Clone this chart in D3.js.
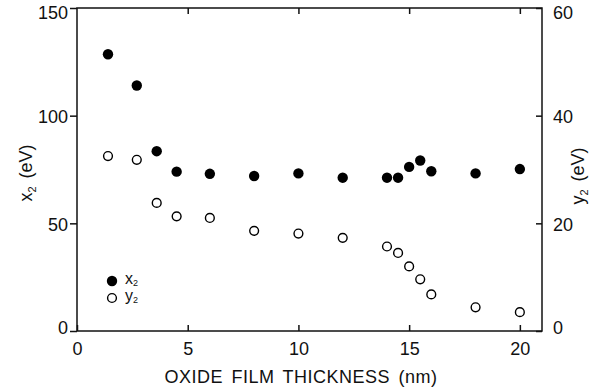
<!DOCTYPE html>
<html>
<head>
<meta charset="utf-8">
<script src="https://cdn.jsdelivr.net/npm/d3@7"></script>
<style>
  body { margin: 0; background: #fff; }
  svg { font-family: "Liberation Sans", Arial, sans-serif; }
</style>
</head>
<body>
<div class="chart"></div>
<script>
const width = 589;
const height = 389;
const margin = { top: 8, right: 47, bottom: 58, left: 77 };

// oxide film thickness (nm)
const thickness = [1.4, 2.7, 3.6, 4.5, 6.0, 8.0, 10, 12, 14, 14.5, 15, 15.5, 16, 18, 20];
// x2 (eV), left axis
const x2Values = [128.5, 114, 83.5, 74, 73, 72, 73.2, 71.2, 71.2, 71.2, 76.2, 79.2, 74.2, 73.2, 75.2];
// y2 (eV), right axis
const y2Values = [32.5, 31.8, 23.8, 21.3, 21.0, 18.6, 18.1, 17.3, 15.7, 14.5, 12.0, 9.6, 6.8, 4.4, 3.5];

const xTicks = [0, 5, 10, 15, 20];
const leftTicks = [0, 50, 100, 150];
const rightTicks = [0, 20, 40, 60];

const svg = d3.select(".chart")
    .append("svg")
    .attr("width", width)
    .attr("height", height);

const x = d3.scaleLinear()
    .domain([0, 21])
    .range([margin.left, width - margin.right]);

const yLeft = d3.scaleLinear()
    .domain([0, 150])
    .range([height - margin.bottom, margin.top]);

const yRight = d3.scaleLinear()
    .domain([0, 60])
    .range([height - margin.bottom, margin.top]);

const fontSize = 18;

// frame
svg.append("rect")
    .attr("x", margin.left)
    .attr("y", margin.top)
    .attr("width", width - margin.left - margin.right)
    .attr("height", height - margin.top - margin.bottom)
    .attr("fill", "none")
    .attr("stroke", "#111")
    .attr("stroke-width", 1.5);

// bottom axis, ticks inward
const xAxis = svg.append("g")
    .attr("transform", `translate(0, ${height - margin.bottom})`)
    .call(d3.axisBottom(x).tickValues(xTicks).tickSize(-6).tickPadding(11));

// top axis, ticks only
const xTop = svg.append("g")
    .attr("transform", `translate(0, ${margin.top})`)
    .call(d3.axisTop(x).tickValues(xTicks.filter(d => d > 0)).tickSize(-6).tickFormat(""));

// left axis, ticks outward
const yAxisL = svg.append("g")
    .attr("transform", `translate(${margin.left}, 0)`)
    .call(d3.axisLeft(yLeft).tickValues(leftTicks).tickSize(7).tickPadding(2));

// right axis, ticks inward
const yAxisR = svg.append("g")
    .attr("transform", `translate(${width - margin.right}, 0)`)
    .call(d3.axisRight(yRight).tickValues(rightTicks).tickSize(-6).tickPadding(11));

[xAxis, xTop, yAxisL, yAxisR].forEach(g => {
    g.select(".domain").remove();
    g.selectAll(".tick line").attr("stroke", "#111").attr("stroke-width", 1.5);
    g.selectAll(".tick text")
        .attr("fill", "#111")
        .attr("font-size", fontSize)
        .attr("font-family", "Liberation Sans, Arial, sans-serif");
});

// top labels sit a bit lower than their ticks, bottom ones a bit higher
yAxisL.selectAll(".tick text")
    .attr("dy", d => d === 150 ? "0.6em" : d === 0 ? "0.12em" : "0.38em");
yAxisR.selectAll(".tick text")
    .attr("dy", d => d === 60 ? "0.6em" : d === 0 ? "0.12em" : "0.38em");

// axis titles
svg.append("text")
    .attr("x", 301)
    .attr("y", 383)
    .attr("text-anchor", "middle")
    .attr("font-size", fontSize)
    .attr("letter-spacing", 0.5)
    .attr("word-spacing", 3)
    .attr("fill", "#111")
    .text("OXIDE FILM THICKNESS (nm)");

const leftTitle = svg.append("text")
    .attr("transform", `translate(${32}, ${173}) rotate(-90)`)
    .attr("text-anchor", "middle")
    .attr("font-size", fontSize)
    .attr("fill", "#111");
leftTitle.append("tspan").text("x");
leftTitle.append("tspan").attr("font-size", 11).attr("dy", 4).text("2");
leftTitle.append("tspan").attr("dy", -4).attr("dx", 3).text(" (eV)");

const rightTitle = svg.append("text")
    .attr("transform", `translate(${584}, ${176}) rotate(-90)`)
    .attr("text-anchor", "middle")
    .attr("font-size", fontSize)
    .attr("fill", "#111");
rightTitle.append("tspan").text("y");
rightTitle.append("tspan").attr("font-size", 11).attr("dy", 4).text("2");
rightTitle.append("tspan").attr("dy", -4).attr("dx", 3).text(" (eV)");

// data points
const points = thickness.map((t, i) => ({ t: t, x2: x2Values[i], y2: y2Values[i] }));

svg.selectAll("circle.x2")
    .data(points)
    .join("circle")
    .attr("class", "x2")
    .attr("cx", d => x(d.t))
    .attr("cy", d => yLeft(d.x2))
    .attr("r", 5.2)
    .attr("fill", "#000");

svg.selectAll("circle.y2")
    .data(points)
    .join("circle")
    .attr("class", "y2")
    .attr("cx", d => x(d.t))
    .attr("cy", d => yRight(d.y2))
    .attr("r", 4.4)
    .attr("fill", "#fff")
    .attr("stroke", "#000")
    .attr("stroke-width", 1.4);

// legend
const legend = [
    { name: "x", filled: true },
    { name: "y", filled: false }
];

const lg = svg.selectAll("g.legend")
    .data(legend)
    .join("g")
    .attr("class", "legend")
    .attr("transform", (d, i) => `translate(112, ${281 + i * 17})`);

lg.append("circle")
    .attr("r", d => d.filled ? 5.2 : 4.4)
    .attr("fill", d => d.filled ? "#000" : "#fff")
    .attr("stroke", "#000")
    .attr("stroke-width", d => d.filled ? 0 : 1.4);

const lt = lg.append("text")
    .attr("x", 13)
    .attr("y", 3)
    .attr("font-size", 16)
    .attr("fill", "#111");
lt.append("tspan").text(d => d.name);
lt.append("tspan").attr("font-size", 9).attr("dy", 2).text("2");
</script>
</body>
</html>
